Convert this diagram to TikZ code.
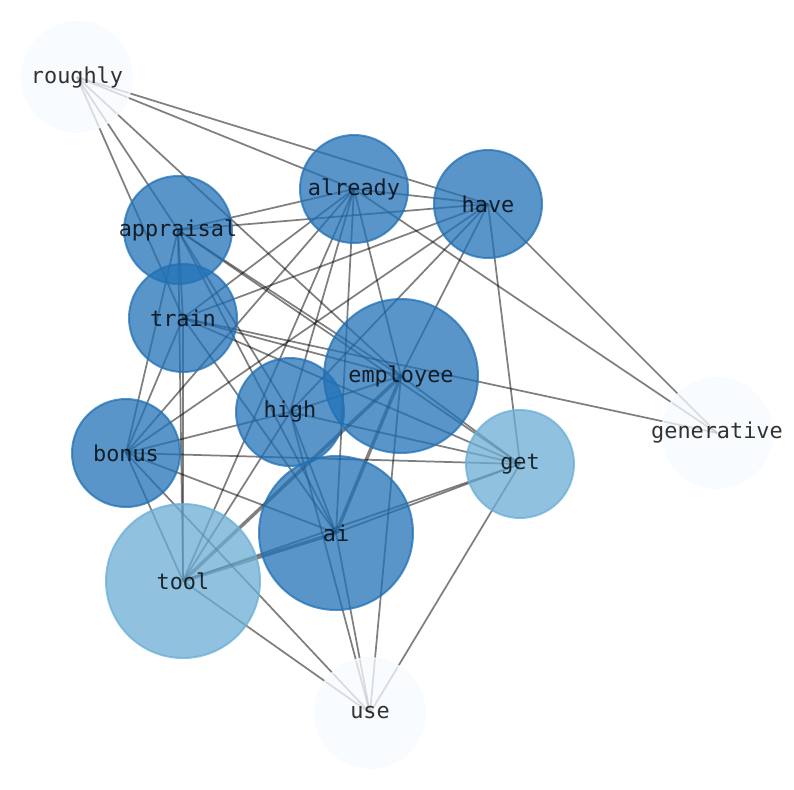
\documentclass[tikz,border=0pt]{standalone}
\usepackage{fontspec}
\setmonofont{DejaVu Sans Mono}
\pgfdeclarelayer{bg}
\pgfsetlayers{bg,main}
\definecolor{dkb}{HTML}{2171B5}
\definecolor{ltb}{HTML}{6BAED6}
\definecolor{vlb}{HTML}{F7FBFF}
\tikzset{
  lbl/.style={inner sep=0pt, text=black, text opacity=0.8, font=\ttfamily\fontsize{16.4}{18}\selectfont},
  wnode/.style={circle, inner sep=0pt, line width=1.5pt, fill opacity=0.75, draw opacity=0.75},
  dk/.style={wnode, fill=dkb, draw=dkb, minimum size=81pt},
  dkbig/.style={wnode, fill=dkb, draw=dkb, minimum size=115.5pt},
  lt/.style={wnode, fill=ltb, draw=ltb, minimum size=81pt},
  ltbig/.style={wnode, fill=ltb, draw=ltb, minimum size=115.5pt},
  vl/.style={wnode, fill=vlb, draw=vlb, minimum size=82.5pt},
  edge/.style={draw=black, draw opacity=0.5, line width=1.3pt},
  thick edge/.style={draw=black, draw opacity=0.5, line width=2.6pt}
}
\begin{document}
\begin{tikzpicture}[x=0.75pt,y=-0.75pt]
\useasboundingbox (0,0) rectangle (794,790);
\node[vl, label={[lbl]center:roughly}] (roughly) at (77,77) {};
\node[dk, label={[lbl]center:already}] (already) at (354,189) {};
\node[dk, label={[lbl]center:have}] (have) at (488,204) {};
\node[dk, label={[lbl]center:appraisal}] (appraisal) at (178,230) {};
\node[dk, label={[lbl]center:train}] (train) at (183,318) {};
\node[dkbig, label={[lbl]center:employee}] (employee) at (401,376) {};
\node[dk, label={[lbl]center:high}] (high) at (290,412) {};
\node[dk, label={[lbl]center:bonus}] (bonus) at (126,453) {};
\node[lt, label={[lbl]center:get}] (get) at (520,464) {};
\node[vl, label={[lbl]center:generative}] (generative) at (717,433) {};
\node[dkbig, label={[lbl]center:ai}] (ai) at (336,533) {};
\node[ltbig, label={[lbl]center:tool}] (tool) at (183,581) {};
\node[vl, label={[lbl]center:use}] (use) at (370,713) {};
\begin{pgfonlayer}{bg}
\foreach \a/\b in {roughly/have, roughly/already, roughly/appraisal, roughly/employee, roughly/train,
  already/have, already/appraisal, already/train, already/high, already/ai, already/employee, already/tool, already/bonus, already/generative,
  have/appraisal, have/train, have/bonus, have/high, have/employee, have/get, have/generative,
  appraisal/train, appraisal/bonus, appraisal/tool, appraisal/high, appraisal/ai, appraisal/employee, appraisal/get,
  train/bonus, train/tool, train/employee, train/get, train/ai, train/generative,
  employee/high, employee/get, employee/use,
  high/bonus, high/get, high/ai, high/use, high/tool,
  bonus/get, bonus/ai, bonus/tool, bonus/use,
  get/ai, get/tool, get/use, ai/use, tool/use}
  \draw[edge] (\a.center) -- (\b.center);
\foreach \a/\b in {employee/ai, employee/tool, ai/tool}
  \draw[thick edge] (\a.center) -- (\b.center);
\end{pgfonlayer}
\end{tikzpicture}
\end{document}
